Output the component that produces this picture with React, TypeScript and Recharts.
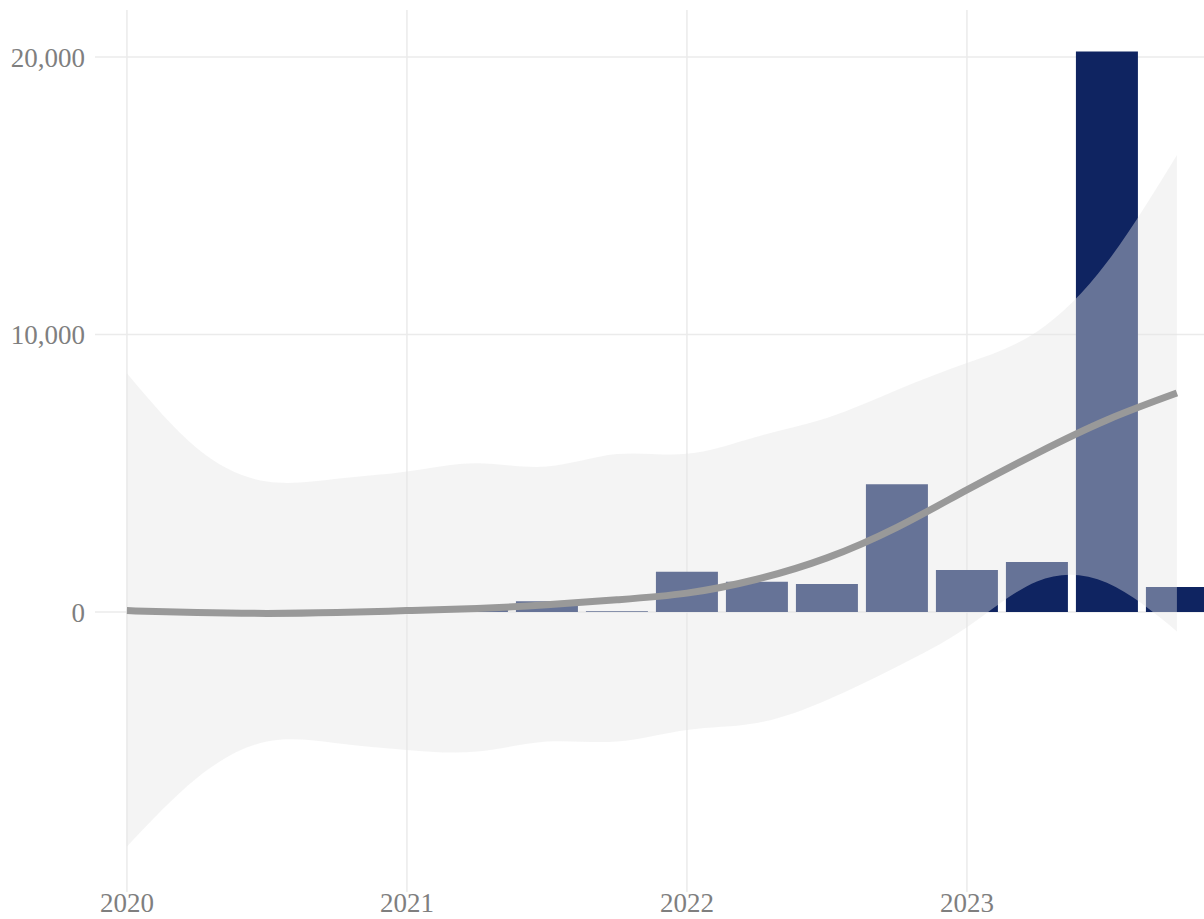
import {
  ComposedChart,
  Bar,
  Area,
  Line,
  XAxis,
  YAxis,
  CartesianGrid,
} from "recharts";

// quarters, as decimal years
const quarters = [
  2020, 2020.25, 2020.5, 2020.75, 2021, 2021.25, 2021.5, 2021.75, 2022, 2022.25,
  2022.5, 2022.75, 2023, 2023.25, 2023.5, 2023.75,
];

// bar values per quarter (null = no bar)
const counts = [
  null, null, null, null, null, 150, 390, 30, 1450, 1090, 1010, 4600, 1510,
  1800, 20200, 900,
];

// smoothed trend and its confidence band
const fit = [
  50, -20, -50, -20, 50, 130, 260, 440, 680, 1180, 1950, 3050, 4400, 5720,
  6920, 7890,
];
const upper = [
  8600, 5900, 4700, 4800, 5060, 5360, 5240, 5690, 5700, 6320, 6990, 8000, 8970,
  10100, 12600, 16470,
];
const lower = [
  -8450, -5980, -4670, -4730, -4970, -5030, -4670, -4670, -4250, -4000, -3170,
  -1970, -550, 1100, 1050, -700,
];

const yearTicks = [2020, 2021, 2022, 2023];
const valueTicks = [0, 10000, 20000];

const data = quarters.map((t, i) => ({
  t,
  count: counts[i],
  fit: fit[i],
  band: [lower[i], upper[i]],
}));

const tickStyle = {
  fill: "#7f7f7f",
  fontSize: 27,
  fontFamily: "'Liberation Serif', serif",
};

export default function App() {
  return (
    <div
      style={{
        position: "absolute",
        left: 0,
        top: 0,
        width: 1204,
        height: 919,
        overflow: "hidden",
        background: "#fff",
      }}
    >
      <ComposedChart
        width={1215}
        height={919}
        data={data}
        margin={{ top: 10, right: 0, bottom: 0, left: 0 }}
      >
        <CartesianGrid stroke="#ebebeb" strokeWidth={1.5} syncWithTicks />
        <XAxis
          dataKey="t"
          type="number"
          domain={[2019.886, 2023.886]}
          allowDataOverflow
          ticks={yearTicks}
          axisLine={false}
          tickLine={false}
          tickSize={0}
          tickMargin={1}
          height={27}
          tick={tickStyle}
        />
        <YAxis
          type="number"
          domain={[-10090, 21694]}
          allowDataOverflow
          ticks={valueTicks}
          tickFormatter={(v) => v.toLocaleString("en-US")}
          axisLine={false}
          tickLine={false}
          tickSize={0}
          tickMargin={10}
          width={95}
          tick={tickStyle}
        />
        <Bar dataKey="count" fill="#0f2461" barSize={62} isAnimationActive={false} />
        <Area
          dataKey="band"
          type="natural"
          stroke="none"
          fill="#e4e4e4"
          fillOpacity={0.41}
          zIndex={350}
          isAnimationActive={false}
        />
        <Line
          dataKey="fit"
          type="natural"
          stroke="#999999"
          strokeWidth={7}
          dot={false}
          zIndex={450}
          isAnimationActive={false}
        />
      </ComposedChart>
    </div>
  );
}
